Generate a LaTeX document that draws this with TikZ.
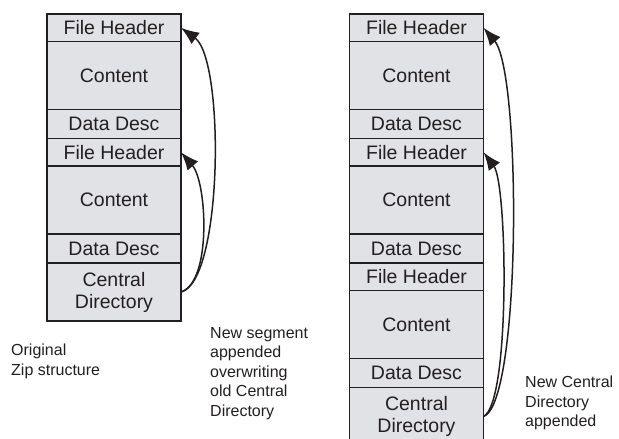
\documentclass[tikz,border=0pt]{standalone}
\usepackage{fontspec}
\setmainfont{Liberation Sans}
\usepackage{tikz}
\usetikzlibrary{positioning}
\usetikzlibrary{arrows.meta}
\definecolor{cellgray}{RGB}{225,226,229}
\definecolor{inkdark}{RGB}{35,31,32}

\begin{document}
\begin{tikzpicture}
  [
    x=1pt, y=-1pt,
    cell/.style={draw=inkdark, fill=cellgray, line width=1.8pt,
      minimum width=134pt, inner sep=0pt, outer sep=0pt, align=center,
      font=\fontsize{19.5}{22}\selectfont, text=inkdark},
    hdr/.style={cell, minimum height=27.5pt},
    body/.style={cell, minimum height=68pt},
    desc/.style={cell, minimum height=29pt},
    cdir/.style={cell, minimum height=58pt},
    lbl/.style={anchor=north west, align=left, inner sep=0pt,
      font=\fontsize{16}{19.5}\selectfont, text=inkdark},
    ld/.style={draw=inkdark, line width=1.5pt,
      -{Latex[length=18pt,width=14pt]}}
  ]
  \useasboundingbox (0,0) rectangle (619,439);

  % original zip
  \node (c1) at (114,14) [hdr, anchor=north] {File Header};
  \node (c2) [body, below=0pt of c1] {Content};
  \node (c3) [desc, below=0pt of c2] {Data Desc};
  \node (c4) [hdr,  below=0pt of c3] {File Header};
  \node (c5) [body, below=0pt of c4] {Content};
  \node (c6) [desc, below=0pt of c5] {Data Desc};
  \node (c7) [cdir, below=0pt of c6] {Central\\Directory};

  % appended zip
  \node (d1) at (416.5,14) [hdr, anchor=north] {File Header};
  \node (d2)  [body, below=0pt of d1] {Content};
  \node (d3)  [desc, below=0pt of d2] {Data Desc};
  \node (d4)  [hdr,  below=0pt of d3] {File Header};
  \node (d5)  [body, below=0pt of d4] {Content};
  \node (d6)  [desc, below=0pt of d5] {Data Desc};
  \node (d7)  [hdr,  below=0pt of d6] {File Header};
  \node (d8)  [body, below=0pt of d7] {Content};
  \node (d9)  [desc, below=0pt of d8] {Data Desc};
  \node (d10) [cdir, below=0pt of d9] {Central\\Directory};

  \node (labelOrig) at (11,344)  [lbl] {Original\\Zip structure};
  \node (labelSeg)  at (210,327) [lbl] {New segment\\appended\\overwriting\\old Central\\Directory};
  \node (labelNew)  at (525,376) [lbl] {New Central\\Directory\\appended};

  \draw [ld] (c7.east) .. controls +(42,-10) and +(44,32) .. (c1.east);
  \draw [ld] (c7.east) .. controls +(31,-10) and +(26,30) .. (c4.east);
  \draw [ld] (d10.east) .. controls +(38,-13) and +(38,45) .. (d1.east);
  \draw [ld] (d10.east) .. controls +(27,-13) and +(24,32) .. (d4.east);
\end{tikzpicture}
\end{document}
